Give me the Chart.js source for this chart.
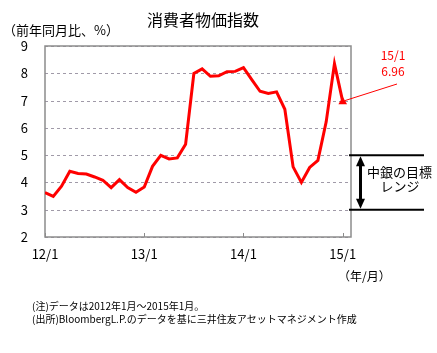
<!DOCTYPE html>
<html>
<head>
<meta charset="utf-8">
<script src="https://cdn.jsdelivr.net/npm/chart.js@4/dist/chart.umd.min.js"></script>
<style>
  body { margin: 0; background: #fff; }
  canvas { display: block; }
</style>
</head>
<body>
<canvas id="cpiChart" width="437" height="353"></canvas>
<script>
// 消費者物価指数（前年同月比、%） 2012年1月～2015年1月
const cpi = [
  3.63, 3.49, 3.86, 4.41, 4.33, 4.31, 4.20, 4.08, 3.81, 4.10, 3.81, 3.64,
  3.83, 4.59, 4.99, 4.86, 4.90, 5.40, 7.99, 8.16, 7.89, 7.91, 8.06, 8.07,
  8.21, 7.77, 7.34, 7.26, 7.32, 6.68, 4.57, 4.00, 4.55, 4.81, 6.22, 8.35,
  6.96
];
const xTickLabels = ["12/1", "13/1", "14/1", "15/1"];
const yTicks = [2, 3, 4, 5, 6, 7, 8, 9];
const targetRange = [3, 5];

const JP = '"Noto Sans CJK JP", "Noto Sans", sans-serif';

// 注釈・枠線などを描くプラグイン
const decorations = {
  id: "decorations",
  beforeDatasetsDraw(chart) {
    const ctx = chart.ctx;
    const area = chart.chartArea;
    const xs = chart.scales.x;
    const ys = chart.scales.y;
    ctx.save();
    // 点線の目盛線
    ctx.strokeStyle = "#a09aa8";
    ctx.lineWidth = 1;
    ctx.setLineDash([3, 3]);
    ys.ticks.forEach((t) => {
      const y = Math.round(ys.getPixelForValue(t.value)) + 0.5;
      ctx.beginPath();
      ctx.moveTo(area.left, y);
      ctx.lineTo(area.right, y);
      ctx.stroke();
    });
    ctx.setLineDash([]);
    // 枠線
    ctx.strokeStyle = "#8c8c8c";
    ctx.lineWidth = 1.5;
    ctx.strokeRect(area.left, area.top, area.right - area.left, area.bottom - area.top);
    // 目盛り（下辺から上向き）
    ctx.lineWidth = 1;
    xs.ticks.forEach((t) => {
      const x = Math.round(xs.getPixelForValue(t.value)) + 0.5;
      ctx.beginPath();
      ctx.moveTo(x, area.bottom);
      ctx.lineTo(x, area.bottom - 4);
      ctx.stroke();
    });
    ctx.restore();
  },
  afterDraw(chart) {
    const ctx = chart.ctx;
    const ys = chart.scales.y;
    const meta = chart.getDatasetMeta(0);
    const last = meta.data[meta.data.length - 1];
    ctx.save();

    // タイトル・軸ラベル
    ctx.fillStyle = "#000";
    ctx.textBaseline = "middle";
    ctx.textAlign = "center";
    ctx.font = "16px " + JP;
    ctx.fillText("消費者物価指数", 203, 20);
    ctx.textAlign = "left";
    ctx.font = "13px " + JP;
    ctx.fillText("（前年同月比、%）", 3, 30);
    ctx.font = "12px " + JP;
    ctx.fillText("（年/月）", 338, 276);

    // 注記
    ctx.font = "10px " + JP;
    ctx.fillText("(注)データは2012年1月～2015年1月。", 32, 306);
    ctx.fillText("(出所)BloombergL.P.のデータを基に三井住友アセットマネジメント作成", 32, 319);

    // 最新値の注釈
    ctx.fillStyle = "#ff0000";
    ctx.textAlign = "center";
    ctx.font = "12px " + JP;
    ctx.fillText("15/1", 393, 55);
    ctx.fillText(cpi[cpi.length - 1].toFixed(2), 393, 71);
    ctx.strokeStyle = "#ff0000";
    ctx.lineWidth = 1;
    ctx.beginPath();
    ctx.moveTo(397, 84);
    ctx.lineTo(last.x + 2, last.y - 1);
    ctx.stroke();

    // 中銀の目標レンジ
    const yHi = ys.getPixelForValue(targetRange[1]);
    const yLo = ys.getPixelForValue(targetRange[0]);
    ctx.strokeStyle = "#000";
    ctx.fillStyle = "#000";
    ctx.lineWidth = 2;
    [yHi, yLo].forEach((y) => {
      ctx.beginPath();
      ctx.moveTo(349, y);
      ctx.lineTo(424, y);
      ctx.stroke();
    });
    const ax = 360.5;
    ctx.lineWidth = 3;
    ctx.beginPath();
    ctx.moveTo(ax, yHi + 9);
    ctx.lineTo(ax, yLo - 9);
    ctx.stroke();
    ctx.beginPath();
    ctx.moveTo(ax, yHi + 1);
    ctx.lineTo(ax - 4.5, yHi + 11);
    ctx.lineTo(ax + 4.5, yHi + 11);
    ctx.closePath();
    ctx.fill();
    ctx.beginPath();
    ctx.moveTo(ax, yLo - 1);
    ctx.lineTo(ax - 4.5, yLo - 11);
    ctx.lineTo(ax + 4.5, yLo - 11);
    ctx.closePath();
    ctx.fill();
    ctx.textAlign = "left";
    ctx.font = "13px " + JP;
    ctx.fillText("中銀の目標", 367, 172);
    ctx.textAlign = "center";
    ctx.fillText("レンジ", 400, 186);

    ctx.restore();
  },
};

const ctxCpi = document.getElementById("cpiChart").getContext("2d");
const cpiChart = new Chart(ctxCpi, {
  type: "line",
  data: {
    datasets: [{
      data: cpi.map((v, i) => ({ x: i, y: v })),
      borderColor: "#ff0000",
      backgroundColor: "#ff0000",
      borderWidth: 3,
      tension: 0,
      fill: false,
      pointStyle: "triangle",
      pointRadius: cpi.map((v, i) => (i === cpi.length - 1 ? 5 : 0)),
      pointBorderWidth: 0,
    }],
  },
  options: {
    responsive: false,
    animation: false,
    layout: { padding: { left: 0, top: 46, right: 86, bottom: 86 } },
    plugins: {
      legend: { display: false },
      tooltip: { enabled: false },
      title: { display: false },
    },
    scales: {
      x: {
        type: "linear",
        min: 0,
        max: 37,
        afterFit: (scale) => { scale.height = 30; },
        afterBuildTicks: (scale) => {
          scale.ticks = xTickLabels.map((l, i) => ({ value: i * 12 }));
        },
        ticks: {
          padding: 9,
          color: "#000",
          font: { size: 13, family: JP },
          maxRotation: 0,
          callback: (v) => xTickLabels[v / 12],
        },
        grid: { display: false, drawTicks: false },
        border: { display: false },
      },
      y: {
        min: yTicks[0],
        max: yTicks[yTicks.length - 1],
        afterFit: (scale) => { scale.width = 45; },
        afterBuildTicks: (scale) => {
          scale.ticks = yTicks.map((v) => ({ value: v }));
        },
        ticks: {
          padding: 17,
          color: "#000",
          font: { size: 13, family: JP },
        },
        grid: { display: false, drawTicks: false },
        border: { display: false },
      },
    },
  },
  plugins: [decorations],
});
</script>
</body>
</html>
